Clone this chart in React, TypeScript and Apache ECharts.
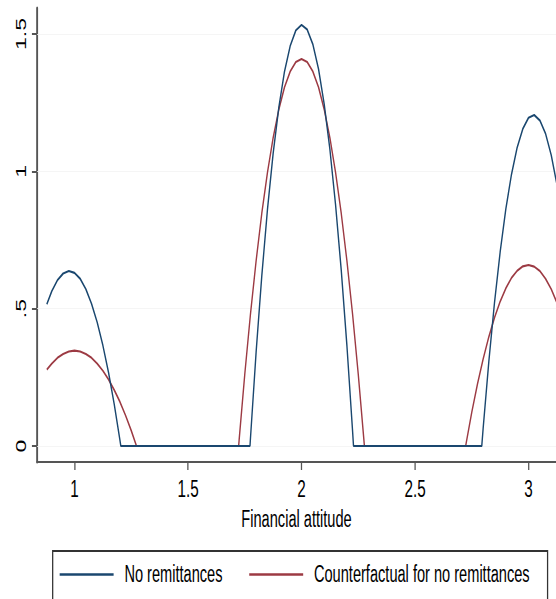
import React, { useEffect, useRef } from "react";
import * as echarts from "echarts";

// Kernel-density style curves
const noRemitX = [0.878, 0.9, 0.925, 0.95, 0.975, 1.0, 1.025, 1.05, 1.075, 1.1, 1.125, 1.15, 1.175, 1.2, 1.204,
  1.773, 1.775, 1.8, 1.825, 1.85, 1.875, 1.9, 1.925, 1.95, 1.975, 2.0, 2.025, 2.05, 2.075, 2.1, 2.125, 2.15, 2.175, 2.2, 2.225, 2.229,
  2.794, 2.8, 2.825, 2.85, 2.875, 2.9, 2.925, 2.95, 2.975, 3.0, 3.025, 3.05, 3.075, 3.1, 3.125];
const noRemitY = [0.516, 0.564, 0.604, 0.628, 0.637, 0.630, 0.609, 0.571, 0.518, 0.450, 0.366, 0.267, 0.152, 0.022, 0,
  0, 0.027, 0.342, 0.619, 0.861, 1.065, 1.232, 1.363, 1.456, 1.513, 1.533, 1.516, 1.462, 1.372, 1.244, 1.080, 0.878, 0.640, 0.365, 0.053, 0,
  0, 0.063, 0.306, 0.521, 0.706, 0.863, 0.989, 1.087, 1.155, 1.195, 1.205, 1.185, 1.137, 1.059, 0.952];

const cfX = [0.878, 0.9, 0.925, 0.95, 0.975, 1.0, 1.025, 1.05, 1.075, 1.1, 1.125, 1.15, 1.175, 1.2, 1.225, 1.25, 1.273,
  1.723, 1.725, 1.75, 1.775, 1.8, 1.825, 1.85, 1.875, 1.9, 1.925, 1.95, 1.975, 2.0, 2.025, 2.05, 2.075, 2.1, 2.125, 2.15, 2.175, 2.2, 2.225, 2.25, 2.275, 2.277,
  2.723, 2.725, 2.75, 2.775, 2.8, 2.825, 2.85, 2.875, 2.9, 2.925, 2.95, 2.975, 3.0, 3.025, 3.05, 3.075, 3.1, 3.125];
const cfY = [0.278, 0.300, 0.321, 0.335, 0.344, 0.347, 0.344, 0.335, 0.321, 0.300, 0.274, 0.242, 0.204, 0.161, 0.111, 0.056, 0,
  0, 0.020, 0.261, 0.479, 0.674, 0.847, 0.996, 1.122, 1.225, 1.306, 1.363, 1.398, 1.409, 1.398, 1.363, 1.306, 1.225, 1.122, 0.996, 0.847, 0.674, 0.479, 0.261, 0.020, 0,
  0, 0.009, 0.123, 0.225, 0.316, 0.397, 0.467, 0.526, 0.574, 0.612, 0.638, 0.654, 0.659, 0.653, 0.637, 0.609, 0.571, 0.522];

const seriesNames = ["No remittances", "Counterfactual for no remittances"];
const xTickValues = [1, 1.5, 2, 2.5, 3];
const xTickLabels = ["1", "1.5", "2", "2.5", "3"];
const yTickValues = [0, 0.5, 1, 1.5];
const yTickLabels = ["0", ".5", "1", "1.5"];
const xTitle = "Financial attitude";

const FONT = '"Liberation Sans", Arial, Helvetica, sans-serif';
const WIDE = 876;
const H = 599;
const SQUEEZE = 556 / WIDE;

export default function App() {
  const ref = useRef<HTMLDivElement>(null);
  useEffect(() => {
    document.body.style.margin = "0";
    const chart = echarts.init(ref.current!, undefined, { renderer: "svg" });
    const pairs = (xs: number[], ys: number[]) => xs.map((x, i) => [x, ys[i]]);
    chart.setOption({
      animation: false,
      backgroundColor: "#ffffff",
      textStyle: { fontFamily: FONT },
      grid: { left: 58.3, right: 0, top: 8, bottom: 137, containLabel: false },
      xAxis: {
        type: "value",
        min: 0.8348,
        max: 3.121,
        name: xTitle,
        nameLocation: "middle",
        nameGap: 46,
        nameTextStyle: { fontSize: 23, color: "#000", fontFamily: FONT },
        axisLine: { show: true, onZero: false, lineStyle: { color: "#555", width: 2 } },
        axisTick: { show: true, length: 8, customValues: xTickValues, lineStyle: { color: "#555", width: 2 } },
        axisLabel: {
          customValues: xTickValues,
          fontSize: 24,
          color: "#000",
          margin: 15,
          fontFamily: FONT,
          formatter: (v: number) => xTickLabels[xTickValues.indexOf(v)] ?? "",
        },
        splitLine: { show: false },
      },
      yAxis: {
        type: "value",
        min: -0.0582,
        max: 1.5945,
        axisLine: { show: true, onZero: false, lineStyle: { color: "#555", width: 3 } },
        axisTick: { show: true, length: 8, customValues: yTickValues, lineStyle: { color: "#555", width: 2 } },
        axisLabel: {
          customValues: yTickValues,
          rotate: 90,
          fontSize: 23,
          color: "#000",
          margin: 14,
          fontFamily: FONT,
          formatter: (v: number) => yTickLabels[yTickValues.indexOf(v)] ?? "",
        },
        splitLine: { show: false },
      },
      legend: {
        show: true,
        left: 83,
        top: 551,
        orient: "horizontal",
        icon: "rect",
        itemWidth: 85,
        itemHeight: 2.5,
        itemGap: 42,
        padding: [12, 28, 14, 11],
        borderColor: "#333",
        borderWidth: 2,
        backgroundColor: "#fff",
        textStyle: { fontSize: 23, color: "#000", fontFamily: FONT, padding: [0, 0, 0, 12] },
        data: seriesNames,
      },
      series: [
        {
          name: seriesNames[0],
          type: "line",
          data: pairs(noRemitX, noRemitY),
          showSymbol: false,
          symbol: "none",
          clip: true,
          lineStyle: { color: "#1a476f", width: 2.2 },
          itemStyle: { color: "#1a476f" },
          z: 3,
          markLine: {
            silent: true,
            symbol: "none",
            label: { show: false },
            lineStyle: { color: "#f3f3f3", width: 1, type: "solid" },
            data: yTickValues.map((v) => ({ yAxis: v })),
            z: 1,
          },
        },
        {
          name: seriesNames[1],
          type: "line",
          data: pairs(cfX, cfY),
          showSymbol: false,
          symbol: "none",
          clip: true,
          lineStyle: { color: "#9c3a43", width: 2.2 },
          itemStyle: { color: "#9c3a43" },
          z: 2,
        },
      ],
    });
    return () => chart.dispose();
  }, []);
  return (
    <div style={{ position: "absolute", left: 0, top: 0, width: 556, height: H, overflow: "hidden", background: "#fff" }}>
      <div
        style={{
          position: "absolute",
          left: 0,
          top: 0,
          width: WIDE,
          height: H,
          transform: `scaleX(${SQUEEZE})`,
          transformOrigin: "0 0",
        }}
      >
        <div ref={ref} style={{ width: WIDE, height: H }} />
      </div>
    </div>
  );
}
